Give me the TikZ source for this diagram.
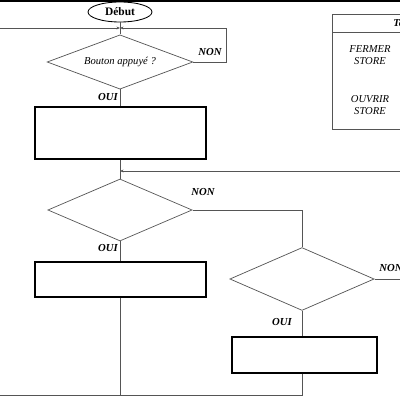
\documentclass[tikz,border=0pt]{standalone}
\usepackage{fontspec}
\setmainfont{Liberation Serif}
\usetikzlibrary{shapes.geometric,arrows.meta}
\definecolor{trait}{HTML}{555555}
\tikzset{
  debut/.style={ellipse, draw=black, line width=0.6pt, minimum width=44.8pt, minimum height=14pt, inner sep=0pt, font=\fontsize{8}{9}\selectfont\bfseries},
  test/.style={diamond, draw=trait, line width=0.5pt, aspect=2.8, inner sep=0pt, minimum width=102pt, minimum height=38pt, font=\fontsize{7.4}{9}\selectfont\itshape},
  action/.style={rectangle, draw=black, line width=0.9pt, minimum width=119.7pt, inner sep=0pt},
  rep/.style={font=\fontsize{7.5}{9}\selectfont\bfseries\itshape, inner sep=0pt},
  cell/.style={font=\fontsize{7.4}{8}\selectfont\itshape, align=center, inner sep=0pt},
  fil/.style={draw=trait, line width=0.5pt},
  fleche/.style={fil, -{Stealth[length=2.5pt,width=2pt]}}
}
\begin{document}
\begin{tikzpicture}[x=0.7pt,y=-0.7pt]
  \clip (0,0) rectangle (400,400);
  \fill[white] (0,0) rectangle (400,400);
  \draw[line width=1.2pt] (0,1) -- (400,1);

  \node (debut) at (120,12) [debut]{Début};
  \coordinate (j1) at (120,28);
  \coordinate (g1) at (0,28);
  \node (q1) at (120,62) [test]{Bouton appuyé ?};
  \coordinate (r1) at (226,62);
  \coordinate (r1h) at (226,28);

  \node (b1) at (120.5,133) [action, minimum height=36.4pt]{};
  \coordinate (j2) at (120,171);
  \coordinate (d2) at (400,171);
  \node (q2) at (120,210) [test, minimum width=101pt, minimum height=43.4pt]{};
  \coordinate (r2) at (302,210);

  \node (b2) at (120.5,279.5) [action, minimum height=24.5pt]{};
  \node (q3) at (302,279) [test, minimum width=101pt, minimum height=44pt]{};
  \coordinate (r3) at (400,279);
  \node (b3) at (304.5,355) [action, minimum width=101.5pt, minimum height=25.2pt]{};
  \coordinate (f2) at (120,395);
  \coordinate (f3) at (302,395);
  \coordinate (f0) at (0,395);

  \node (non1) at (210,52) [rep]{NON};
  \node (oui1) at (108,97) [rep]{OUI};
  \node (non2) at (203,192) [rep]{NON};
  \node (oui2) at (108,248) [rep]{OUI};
  \node (non3) at (391,268) [rep]{NON};
  \node (oui3) at (282,322) [rep]{OUI};

  \draw[fil] (debut) -- (j1);
  \draw[fleche] (g1) -- (j1);
  \draw[fleche] (q1.east) -- (r1) -- (r1h) -- (j1);
  \draw[fil] (j1) -- (q1.north);
  \draw[fil] (q1.south) -- (q1.south |- b1.north);

  \draw[fil] (j2 |- b1.south) -- (j2);
  \draw[fleche] (d2) -- (j2);
  \draw[fil] (j2) -- (q2.north);
  \draw[fil] (q2.south) -- (q2.south |- b2.north);
  \draw[fil] (q2.east) -- (r2) -- (q3.north);
  \draw[fil] (q3.east) -- (r3);
  \draw[fil] (q3.south) -- (q3.south |- b3.north);
  \draw[fil] (f2 |- b2.south) -- (f2);
  \draw[fil] (f3 |- b3.south) -- (f3) -- (f0);

  % tableau
  \node (tab) at (372,71.5) [rectangle, draw=trait, line width=0.6pt, minimum width=56pt, minimum height=80.5pt, inner sep=0pt]{};
  \draw[draw=trait, line width=0.6pt] (332,32) -- (400,32);
  \node (tete) at (393,23) [anchor=west, font=\fontsize{7.4}{8}\selectfont\bfseries\itshape, inner sep=0pt]{Te};
  \node (fermer) at (370,55) [cell]{FERMER\\STORE};
  \node (ouvrir) at (370,105) [cell]{OUVRIR\\STORE};
\end{tikzpicture}
\end{document}
